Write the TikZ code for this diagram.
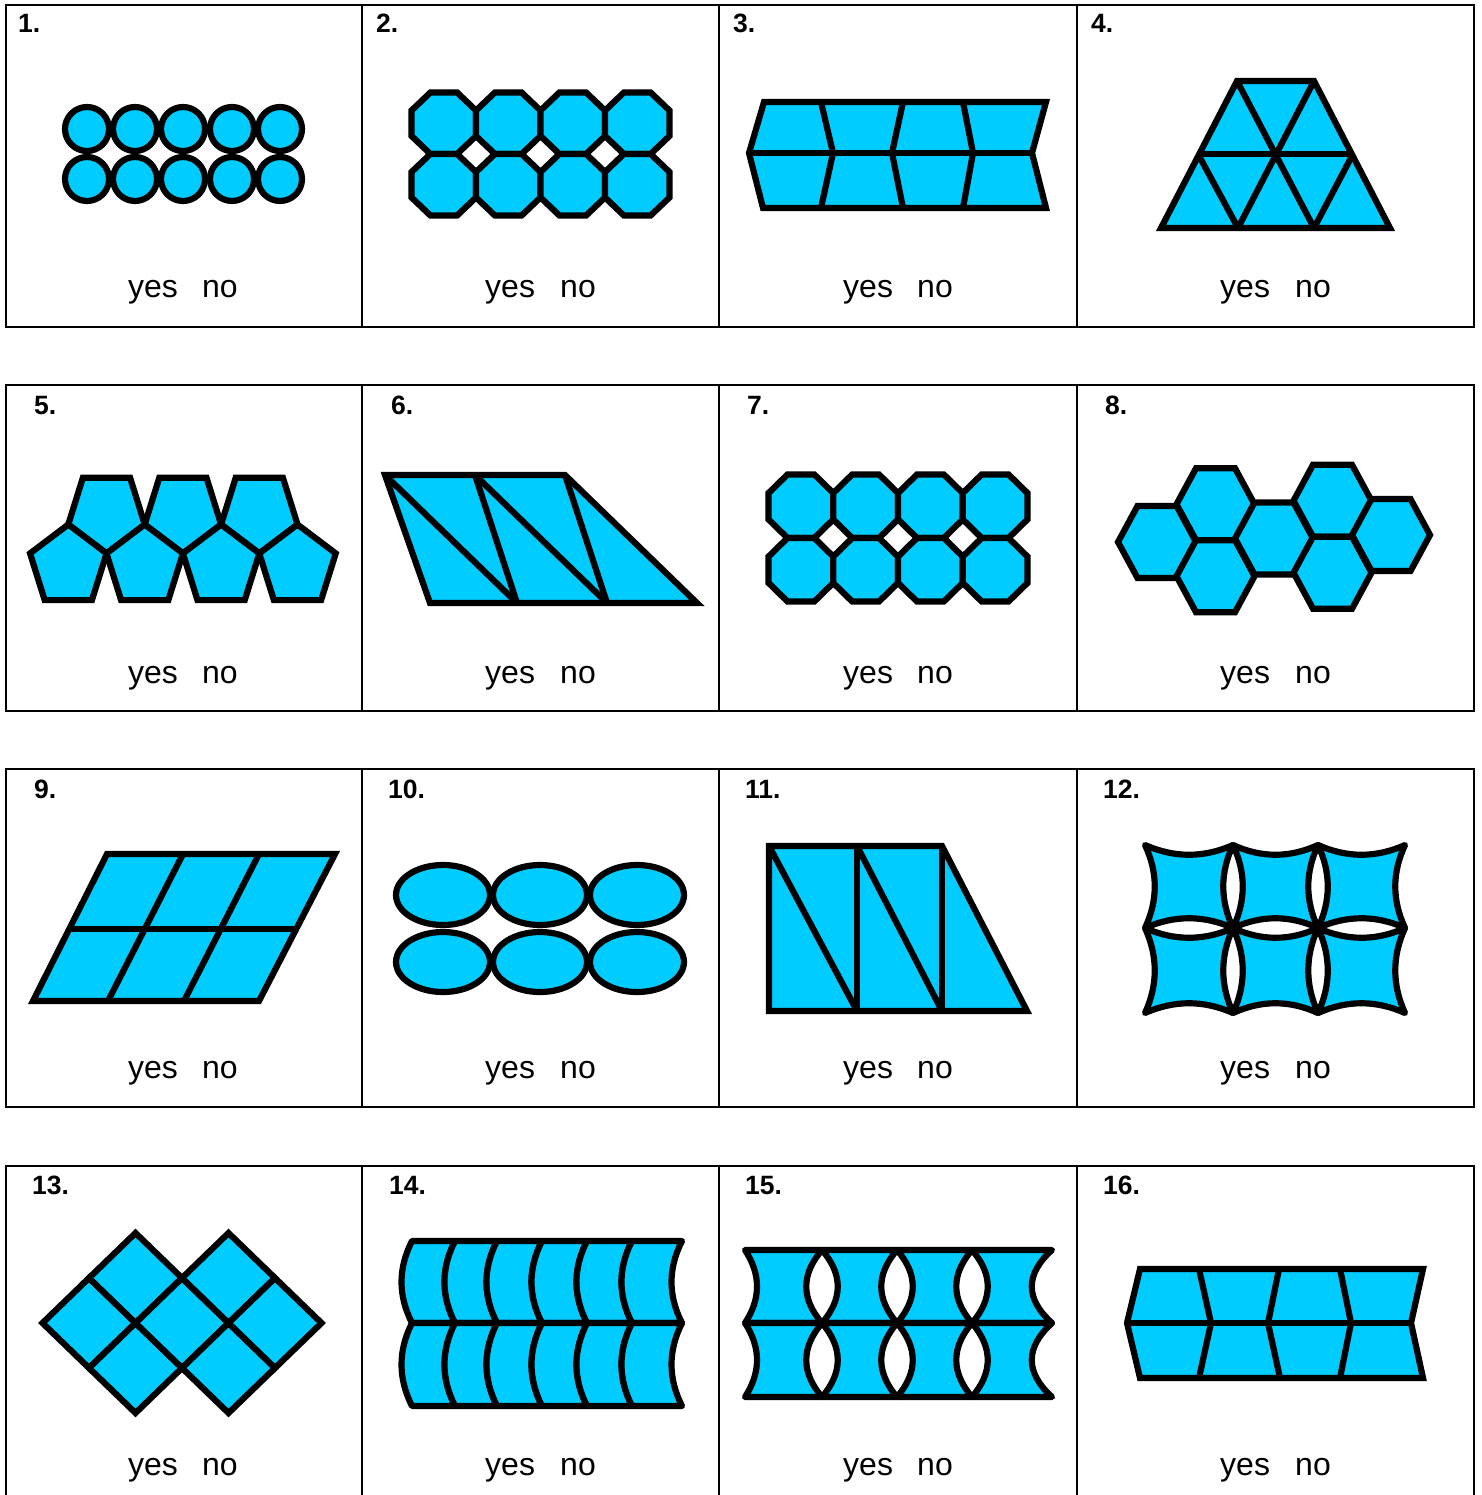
\documentclass[tikz,border=0pt]{standalone}
\usepackage{fontspec}
\setmainfont{Liberation Sans}
\definecolor{tilecol}{RGB}{0,204,255}
\tikzset{
  tile/.style={fill=tilecol, draw=black, line width=6.2pt, line join=miter},
  ctile/.style={tile, line join=round},
  edge/.style={draw=black, line width=6.2pt},
  gridln/.style={draw=black, line width=2pt},
  numlbl/.style={anchor=base west, inner sep=0pt, font=\fontsize{26.5}{30}\selectfont\bfseries},
  yn/.style={anchor=base west, inner sep=0pt, font=\fontsize{32}{38}\selectfont},
}
\newcommand\myocta[4]{\draw[tile] (#1,#2) +({#3},{-#4*0.4142}) -- +({#3},{#4*0.4142}) -- +({#3*0.4142},{#4}) -- +({-#3*0.4142},{#4}) -- +({-#3},{#4*0.4142}) -- +({-#3},{-#4*0.4142}) -- +({-#3*0.4142},{-#4}) -- +({#3*0.4142},{-#4}) -- cycle;}
\newcommand\pentup[2]{\draw[tile] (#1,#2) +(270:40.2 and 41.8) -- +(342:40.2 and 41.8) -- +(54:40.2 and 41.8) -- +(126:40.2 and 41.8) -- +(198:40.2 and 41.8) -- cycle;}
\newcommand\pentdn[2]{\draw[tile] (#1,#2) +(90:40.2 and 41.8) -- +(162:40.2 and 41.8) -- +(234:40.2 and 41.8) -- +(306:40.2 and 41.8) -- +(18:40.2 and 41.8) -- cycle;}
\newcommand\myhex[2]{\draw[tile] (#1,#2) +(-39,0) -- +(-19.5,-36) -- +(19.5,-36) -- +(39,0) -- +(19.5,36) -- +(-19.5,36) -- cycle;}
% concave square: x0 y0 x1 y1
\newcommand\cquad[4]{\draw[ctile] (#1,#2)
  .. controls ({#1+(#3-#1)/3},{#2+13}) and ({#1+2*(#3-#1)/3},{#2+13}) .. (#3,#2)
  .. controls ({#3-13},{#2+(#4-#2)/3}) and ({#3-13},{#2+2*(#4-#2)/3}) .. (#3,#4)
  .. controls ({#1+2*(#3-#1)/3},{#4-13}) and ({#1+(#3-#1)/3},{#4-13}) .. (#1,#4)
  .. controls ({#1+13},{#2+2*(#4-#2)/3}) and ({#1+13},{#2+(#4-#2)/3}) .. cycle;}
% xa xb ytop ybot : both sides bulge left
\newcommand\bandtile[4]{\draw[ctile] (#1,#3) -- (#2,#3)
  .. controls ({#2-14},{#3+(#4-#3)/3}) and ({#2-14},{#3+2*(#4-#3)/3}) .. (#2,#4) -- (#1,#4)
  .. controls ({#1-14},{#3+2*(#4-#3)/3}) and ({#1-14},{#3+(#4-#3)/3}) .. cycle;}
% xa xb ytop ybot cleft cright : concave sides
\newcommand\lenstile[6]{\draw[ctile] (#1,#3) -- (#2,#3)
  .. controls ({#2-#6},{#3+(#4-#3)/3}) and ({#2-#6},{#3+2*(#4-#3)/3}) .. (#2,#4) -- (#1,#4)
  .. controls ({#1+#5},{#3+2*(#4-#3)/3}) and ({#1+#5},{#3+(#4-#3)/3}) .. cycle;}
\newcommand\diam[2]{\draw[tile] (#1,#2) +(-46.5,0) -- +(0,-45) -- +(46.5,0) -- +(0,45) -- cycle;}
\begin{document}
\begin{tikzpicture}[x=1pt,y=-1pt]
\useasboundingbox (0,0) rectangle (1481,1495);
\fill[white] (0,0) rectangle (1481,1495);

% ---------- table grid ----------
\draw[gridln] (6,5) rectangle (1474,327);
\draw[gridln] (6,385) rectangle (1474,711);
\draw[gridln] (6,769) rectangle (1474,1107);
\draw[gridln] (6,1500) -- (6,1166) -- (1474,1166) -- (1474,1500);
\foreach \x in {362,719,1077} {
  \draw[gridln] (\x,5) -- (\x,327);
  \draw[gridln] (\x,385) -- (\x,711);
  \draw[gridln] (\x,769) -- (\x,1107);
  \draw[gridln] (\x,1166) -- (\x,1500);
}

% ---------- numbers ----------
\node[numlbl] (n1) at (18,33) {1.};
\node[numlbl] (n2) at (376,33) {2.};
\node[numlbl] (n3) at (733,33) {3.};
\node[numlbl] (n4) at (1091,33) {4.};
\node[numlbl] (n5) at (34,414) {5.};
\node[numlbl] (n6) at (391,414) {6.};
\node[numlbl] (n7) at (747,414) {7.};
\node[numlbl] (n8) at (1105,414) {8.};
\node[numlbl] (n9) at (34,798) {9.};
\node[numlbl] (n10) at (388,798) {10.};
\node[numlbl] (n11) at (745,798) {11.};
\node[numlbl] (n12) at (1103,798) {12.};
\node[numlbl] (n13) at (32,1194) {13.};
\node[numlbl] (n14) at (389,1194) {14.};
\node[numlbl] (n15) at (745,1194) {15.};
\node[numlbl] (n16) at (1103,1194) {16.};

% ---------- yes / no ----------
\foreach \r/\yb in {1/298,2/683,3/1078,4/1475} {
  \foreach \c/\xy/\xn in {1/128/202,2/485/560,3/843/917,4/1220/1295} {
    \node[yn] (yes\r\c) at (\xy,\yb) {yes};
    \node[yn] (no\r\c) at (\xn,\yb) {no};
  }
}

% ---------- 1: circles ----------
\foreach \x in {87,135,183,232,280} \foreach \y in {129,179} \draw[tile] (\x,\y) circle[radius=22];

% ---------- 2: octagons ----------
\foreach \x in {443.75,508.25,572.75,637.25} \foreach \y in {123.25,184.75} \myocta{\x}{\y}{32.25}{30.75};

% ---------- 3: chevrons ----------
\draw[tile] (764,102) -- (1046,102) -- (1032,153) -- (1046,208) -- (763,208) -- (749,153) -- cycle;
\draw[edge] (749,153) -- (1032,153);
\draw[edge] (821,102) -- (833,153) -- (821,208);
\draw[edge] (903,102) -- (892,153) -- (903,208);
\draw[edge] (963,102) -- (973,153) -- (963,208);

% ---------- 4: triangles ----------
\draw[tile] (1161,228) -- (1237,81) -- (1314,81) -- (1390,228) -- cycle;
\draw[edge] (1198,154) -- (1353,154);
\draw[edge] (1237,81) -- (1314,228);
\draw[edge] (1314,81) -- (1238,228);
\draw[edge] (1198,154) -- (1238,228);
\draw[edge] (1353,154) -- (1314,228);

% ---------- 5: pentagons ----------
\foreach \x in {106.5,182.9,259.3} \pentdn{\x}{511.6};
\foreach \x in {68.3,144.7,221.1,297.5} \pentup{\x}{566.3};

% ---------- 6: triangles in parallelogram ----------
\draw[tile] (385,475) -- (565,475) -- (697,603) -- (430,603) -- cycle;
\draw[edge] (385,475) -- (517,603);
\draw[edge] (475,475) -- (517,603);
\draw[edge] (475,475) -- (607,603);
\draw[edge] (565,475) -- (607,603);

% ---------- 7: octagons ----------
\foreach \x in {800.9,865.6,930.4,995.1} \foreach \y in {506.25,569.75} \myocta{\x}{\y}{32.4}{31.75};

% ---------- 8: hexagons ----------
\myhex{1157}{542}
\myhex{1215.5}{504.25}
\myhex{1215.5}{576.25}
\myhex{1274}{538.5}
\myhex{1332.5}{500.75}
\myhex{1332.5}{572.75}
\myhex{1391}{535}

% ---------- 9: parallelograms ----------
\draw[tile] (33,1001) -- (107,854) -- (335,854) -- (259,1001) -- cycle;
\draw[edge] (70,929) -- (297,929);
\draw[edge] (108,1001) -- (183,854);
\draw[edge] (184,1001) -- (259,854);

% ---------- 10: ellipses ----------
\foreach \x in {443,540,637} \foreach \y in {895,962} \draw[tile] (\x,\y) ellipse[x radius=47, y radius=30];

% ---------- 11: right triangles ----------
\draw[tile] (769,846) -- (942,846) -- (1027,1011) -- (769,1011) -- cycle;
\draw[edge] (857,846) -- (857,1011);
\draw[edge] (942,846) -- (942,1011);
\draw[edge] (769,846) -- (857,1011);
\draw[edge] (857,846) -- (942,1011);

% ---------- 12: concave squares ----------
\foreach \xa/\xb in {1145/1233,1233/1318,1318/1405} \foreach \ya/\yb in {845/928,928/1013} \cquad{\xa}{\ya}{\xb}{\yb};

% ---------- 13: diamonds ----------
\diam{89}{1323}
\diam{135.5}{1278}
\diam{135.5}{1368}
\diam{182}{1323}
\diam{228.5}{1278}
\diam{228.5}{1368}
\diam{275}{1323}

% ---------- 14: curved bands ----------
\foreach \xa/\xb in {412/455,455/497,497/542,542/587,587/632,632/682} {
  \bandtile{\xa}{\xb}{1241}{1323}
  \bandtile{\xa}{\xb}{1323}{1406}
}

% ---------- 15: lens gaps ----------
\foreach \ya/\yb in {1250/1323,1323/1397} {
  \lenstile{745}{822}{\ya}{\yb}{16}{21}
  \lenstile{822}{897}{\ya}{\yb}{21}{21}
  \lenstile{897}{972}{\ya}{\yb}{21}{21}
  \lenstile{972}{1052}{\ya}{\yb}{21}{27}
}

% ---------- 16: chevrons ----------
\draw[tile] (1140,1269) -- (1423,1269) -- (1411,1323) -- (1423,1378) -- (1140,1378) -- (1127,1323) -- cycle;
\draw[edge] (1127,1323) -- (1411,1323);
\draw[edge] (1199,1269) -- (1211,1323) -- (1199,1378);
\draw[edge] (1279,1269) -- (1268,1323) -- (1280,1378);
\draw[edge] (1340,1269) -- (1351,1323) -- (1340,1378);
\end{tikzpicture}
\end{document}
